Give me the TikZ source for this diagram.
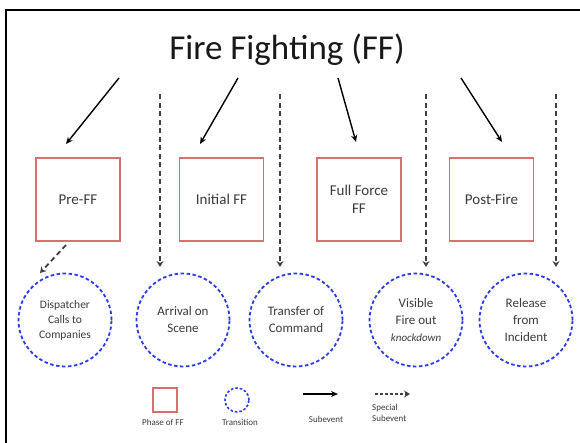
\documentclass[tikz,border=0pt]{standalone}
\usepackage{fontspec}
\setmainfont{Carlito}
\usetikzlibrary{arrows.meta}
\definecolor{phasered}{HTML}{D9706E}
\definecolor{transblue}{HTML}{2B3CF0}
\definecolor{txtgray}{HTML}{3A3A3A}
\tikzset{
  phasebox/.style={draw=phasered, line width=1.3pt, minimum width=84pt, minimum height=83pt, inner sep=0pt, align=center, text=txtgray, font=\fontsize{15}{18}\selectfont},
  transcircle/.style={draw=transblue, line width=1.8pt, dash pattern=on 3.5pt off 2.5pt, circle, minimum size=93pt, inner sep=0pt, align=center, text=txtgray, font=\fontsize{13}{17}\selectfont},
  subevent/.style={-{Stealth[length=7pt,width=6pt]}, line width=1.4pt, black},
  specialsub/.style={-{Stealth[length=6pt,width=7pt]}, line width=1.8pt, black!75, dash pattern=on 5pt off 3.5pt},
  legtext/.style={text=txtgray, font=\fontsize{9}{11}\selectfont, inner sep=0pt}
}
\begin{document}
\begin{tikzpicture}[x=1pt,y=-1pt]
\useasboundingbox (0,0) rectangle (580,442);
\begin{scope}
\clip (0,0) rectangle (580,442);
\draw[line width=2pt] (6,10) rectangle (600,470);
\end{scope}
\node[font=\fontsize{35}{40}\selectfont, text=black!90] (title) at (287,50) {Fire Fighting (FF)};

% phase boxes
\node[phasebox] (pre) at (78,199.5) {Pre-FF};
\node[phasebox] (init) at (221.5,199.5) {Initial FF};
\node[phasebox] (full) at (359,199.5) {Full Force\\FF};
\node[phasebox] (post) at (491.5,199.5) {Post-Fire};

% transitions
\node[transcircle, font=\fontsize{11.5}{15}\selectfont] (disp) at (65,320) {Dispatcher\\Calls to\\Companies};
\node[transcircle] (arr) at (183,320) {Arrival on\\Scene};
\node[transcircle] (trans) at (296,320) {Transfer of\\Command};
\node[transcircle] (vis) at (416,320) {Visible\\Fire out\\{\fontsize{11}{15}\selectfont\itshape knockdown}};
\node[transcircle] (rel) at (526,320) {Release\\from\\Incident};

% subevent arrows
\coordinate (s1) at (119,78);
\coordinate (s2) at (238,78);
\coordinate (s3) at (338,78);
\coordinate (s4) at (461,78);
\coordinate (e1) at (66,144);
\coordinate (e2) at (200,144);
\coordinate (e3) at (356,142);
\coordinate (e4) at (502,142);
\draw[subevent] (s1) -- (e1);
\draw[subevent] (s2) -- (e2);
\draw[subevent] (s3) -- (e3);
\draw[subevent] (s4) -- (e4);

% special subevents
\coordinate (d1) at (160,94);
\coordinate (d2) at (280,94);
\coordinate (d3) at (426,94);
\coordinate (d4) at (556,94);
\coordinate (t1) at (160,267);
\coordinate (t2) at (280,267);
\coordinate (t3) at (426,267);
\coordinate (t4) at (556,267);
\draw[specialsub] (d1) -- (t1);
\draw[specialsub] (d2) -- (t2);
\draw[specialsub] (d3) -- (t3);
\draw[specialsub] (d4) -- (t4);
\coordinate (ps) at (66,245);
\coordinate (pe) at (40,273);
\draw[specialsub] (ps) -- (pe);

% legend
\node[draw=phasered, line width=1.3pt, minimum size=24pt, inner sep=0pt] (lbox) at (165,400) {};
\node[legtext, anchor=north] (lboxt) at (163,419) {Phase of FF};
\node[draw=transblue, line width=1.6pt, dash pattern=on 2.5pt off 2pt, circle, minimum size=24pt, inner sep=0pt] (lcirc) at (237,400) {};
\node[legtext, anchor=north] (lcirct) at (240,419) {Transition};
\coordinate (la1) at (303,394);
\coordinate (la2) at (338,394);
\draw[subevent] (la1) -- (la2);
\node[legtext, anchor=north] (lat) at (326,416) {Subevent};
\coordinate (lb1) at (375,394);
\coordinate (lb2) at (410,394);
\draw[specialsub, line width=1.5pt, dash pattern=on 3pt off 2pt] (lb1) -- (lb2);
\node[legtext, anchor=north west, align=left] (lbt) at (372,404) {Special\\Subevent};
\end{tikzpicture}
\end{document}
